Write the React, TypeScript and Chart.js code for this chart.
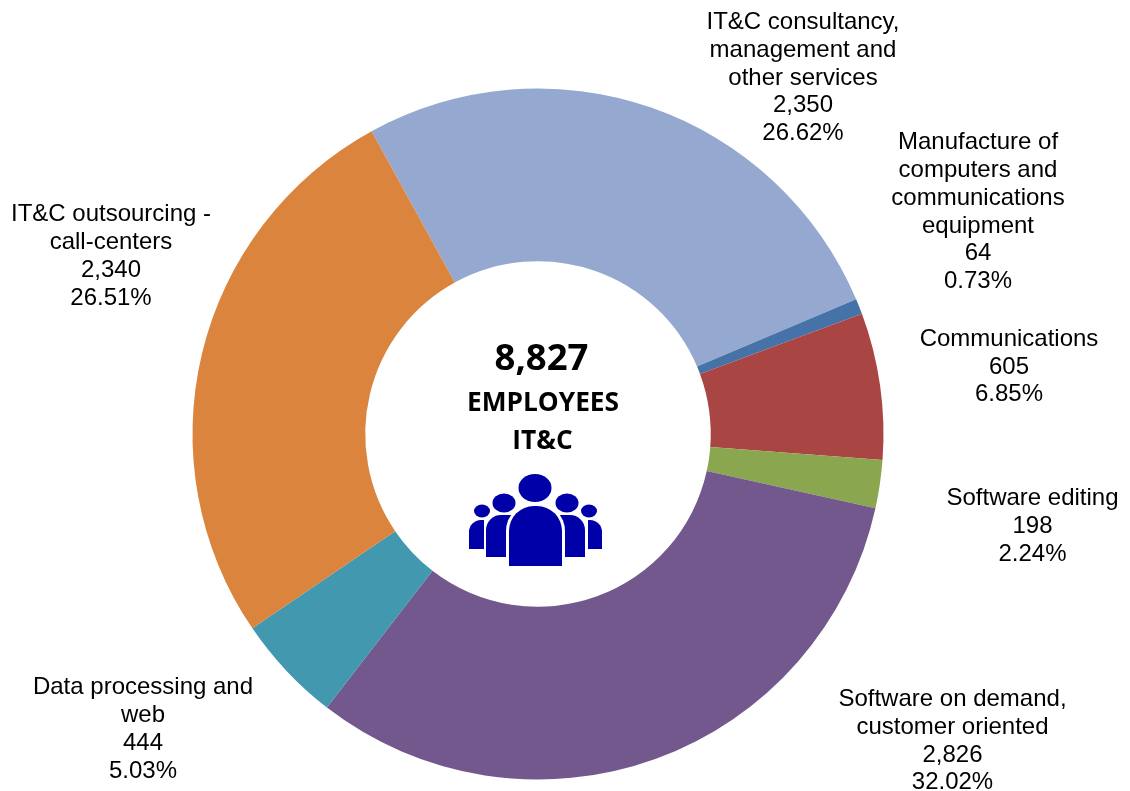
import React, { useEffect, useRef } from "react";
import { Chart, registerables } from "chart.js";

Chart.register(...registerables);

const categories = [
  ["IT&C consultancy,", "management and", "other services"],
  ["Manufacture of", "computers and", "communications", "equipment"],
  ["Communications"],
  ["Software editing"],
  ["Software on demand,", "customer oriented"],
  ["Data processing and", "web"],
  ["IT&C outsourcing -", "call-centers"],
];
const values = [2350, 64, 605, 198, 2826, 444, 2340];
const valueLabels = ["2,350", "64", "605", "198", "2,826", "444", "2,340"];
const percentLabels = ["26.62%", "0.73%", "6.85%", "2.24%", "32.02%", "5.03%", "26.51%"];
const colors = ["#95A9D0", "#4673A7", "#A94543", "#8AA64E", "#72588D", "#4298AF", "#DB843D"];
const labelCenters: [number, number][] = [
  [803, 78], [978, 212], [1009, 367], [1032.5, 526.5], [952.5, 741], [143, 729.5], [111, 256.5],
];

const W = 1130, H = 791;

const overlay = {
  id: "overlay",
  afterDraw(chart: any) {
    const ctx = chart.ctx;
    ctx.save();
    ctx.textAlign = "center";
    ctx.textBaseline = "middle";
    ctx.fillStyle = "#000";
    ctx.font = '24px "Liberation Sans", Arial, sans-serif';
    const lh = 27.8;
    categories.forEach((cat, i) => {
      const lines = [...cat, valueLabels[i], percentLabels[i]];
      const [cx, cy] = labelCenters[i];
      const top = cy - ((lines.length - 1) * lh) / 2;
      lines.forEach((l, j) => ctx.fillText(l, cx, top + j * lh));
    });
    ctx.font = 'bold 36.5px "Open Sans", "Liberation Sans", sans-serif';
    ctx.fillText("8,827", 541.5, 360);
    ctx.font = 'bold 26.3px "Open Sans", "Liberation Sans", sans-serif';
    ctx.fillText("EMPLOYEES", 543, 404);
    ctx.fillText("IT&C", 542.5, 442);
    ctx.fillStyle = "#0000A8";
    const person = (
      x: number, headY: number, rx: number, ry: number,
      left: number, right: number, top: number, bottom: number,
      radii: number[],
    ) => {
      ctx.beginPath();
      ctx.ellipse(x, headY, rx, ry, 0, 0, Math.PI * 2);
      ctx.fill();
      ctx.beginPath();
      ctx.roundRect(left, top, right - left, bottom - top, radii);
      ctx.fill();
    };
    person(482, 511, 8, 6.5, 469, 484, 520, 549, [12, 0, 0, 0]);
    person(589, 511, 8, 6.5, 588, 602, 520, 549, [0, 12, 0, 0]);
    person(504, 503, 11.5, 9.5, 486, 520, 515, 557, [15, 0, 0, 0]);
    person(567, 503, 11.5, 9.5, 550, 585, 515, 557, [0, 15, 0, 0]);
    ctx.beginPath();
    ctx.roundRect(506, 503, 59, 66, [28, 28, 0, 0]);
    ctx.fillStyle = "#fff";
    ctx.fill();
    ctx.fillStyle = "#0000A8";
    ctx.beginPath();
    ctx.ellipse(535, 488, 16.5, 14, 0, 0, Math.PI * 2);
    ctx.fill();
    ctx.beginPath();
    ctx.roundRect(509, 506, 53, 60, [25, 25, 0, 0]);
    ctx.fill();
    ctx.restore();
  },
};

export default function App() {
  const ref = useRef<HTMLCanvasElement>(null);
  useEffect(() => {
    const chart = new Chart(ref.current!, {
      type: "doughnut",
      data: {
        labels: categories.map((c) => c.join(" ")),
        datasets: [{ data: values, backgroundColor: colors, borderWidth: 0 }],
      },
      options: {
        responsive: false,
        animation: false,
        cutout: "50%",
        rotation: -28.8,
        layout: { padding: { left: 192.5, right: W - 883.5, top: 88.5, bottom: H - 779.5 } },
        plugins: { legend: { display: false }, tooltip: { enabled: false } },
      },
      plugins: [overlay],
    });
    return () => chart.destroy();
  }, []);
  return (
    <canvas
      ref={ref}
      width={W}
      height={H}
      style={{ position: "fixed", left: 0, top: 0, display: "block", background: "#fff" }}
    />
  );
}
